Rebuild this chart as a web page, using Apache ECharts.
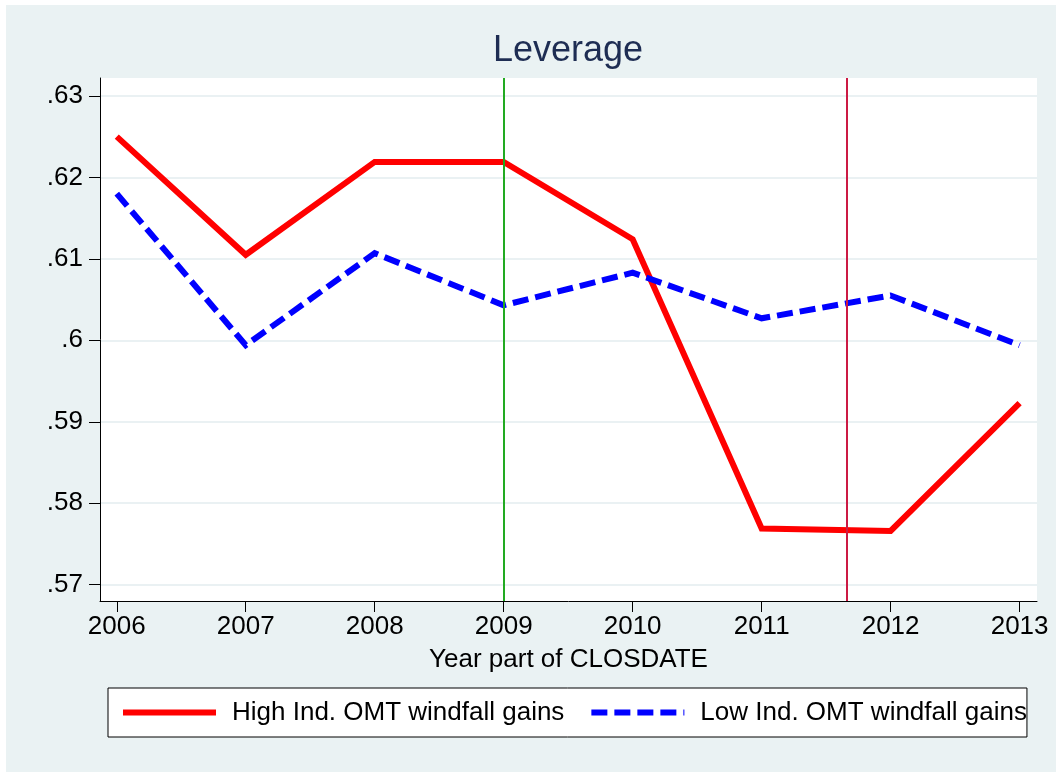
<!DOCTYPE html>
<html>
<head>
<meta charset="utf-8">
<script src="https://cdn.jsdelivr.net/npm/echarts@6/dist/echarts.min.js"></script>
<style>
  html, body { margin: 0; padding: 0; background: #ffffff; width: 1056px; height: 772px; overflow: hidden; }
  #bg { position: absolute; left: 6px; top: 5px; right: 0; bottom: 0; background: #EAF2F3; }
  #chart { position: absolute; left: 0; top: 0; width: 1056px; height: 772px; }
</style>
</head>
<body>
<div id="bg"></div>
<div id="chart"></div>
<script>
// ---- data ----
var years = [2006, 2007, 2008, 2009, 2010, 2011, 2012, 2013];
var highGains = [0.6250, 0.6105, 0.6219, 0.6219, 0.6124, 0.5769, 0.5766, 0.5923];
var lowGains  = [0.6180, 0.5994, 0.6107, 0.6043, 0.6083, 0.6027, 0.6055, 0.5994];
var yTicks = [0.57, 0.58, 0.59, 0.60, 0.61, 0.62, 0.63];
var yTickLabels = ['.57', '.58', '.59', '.6', '.61', '.62', '.63'];
var xTickLabels = ['2006', '2007', '2008', '2009', '2010', '2011', '2012', '2013'];
var refLines = [2009, 2011.66];
var seriesNames = ['High Ind. OMT windfall gains', 'Low Ind. OMT windfall gains'];
var titleText = 'Leverage';
var xAxisTitle = 'Year part of CLOSDATE';

var FONT = '"Liberation Sans", Arial, Helvetica, sans-serif';

function pairs(xs, ys) { return xs.map(function (x, i) { return [x, ys[i]]; }); }

var chart = echarts.init(document.getElementById('chart'), null, { renderer: 'canvas' });
chart.setOption({
  backgroundColor: 'transparent',
  animation: false,
  textStyle: { fontFamily: FONT },
  title: {
    text: titleText,
    left: 568,
    top: 33,
    textAlign: 'center',
    padding: 0,
    textStyle: { fontSize: 36, fontWeight: 'normal', color: '#1E2D53', fontFamily: FONT }
  },
  grid: {
    left: 100, top: 78, right: 19, bottom: 171,
    show: true, backgroundColor: '#ffffff', borderWidth: 0,
    containLabel: false,
    outerBoundsMode: 'none'
  },
  legend: {
    left: 108, top: 688,
    padding: [11, 0, 11, 12],
    backgroundColor: '#ffffff',
    borderColor: '#000000',
    borderWidth: 1,
    itemWidth: 93,
    itemHeight: 16,
    itemGap: 24,
    selectedMode: false,
    lineStyle: { width: 6 },
    itemStyle: { opacity: 0 },
    textStyle: { fontSize: 26, color: '#000000', fontFamily: FONT, lineHeight: 27, padding: [0, 0, 0, 11] },
    data: seriesNames
  },
  xAxis: {
    type: 'value',
    min: 2005.87,
    max: 2013.135,
    name: xAxisTitle,
    nameLocation: 'middle',
    nameGap: 46,
    nameTextStyle: { fontSize: 26, color: '#000000', fontFamily: FONT },
    axisLine: { show: true, lineStyle: { color: '#000000', width: 1 } },
    axisTick: { show: true, length: 11, lineStyle: { color: '#000000', width: 1 }, customValues: years },
    axisLabel: {
      show: true, margin: 13, fontSize: 26, color: '#000000', fontFamily: FONT,
      customValues: years,
      formatter: function (v) { var i = years.indexOf(Math.round(v)); return i >= 0 ? xTickLabels[i] : ''; }
    },
    splitLine: { show: false }
  },
  yAxis: {
    type: 'value',
    min: 0.568,
    max: 0.6322,
    axisLine: { show: true, lineStyle: { color: '#000000', width: 1 } },
    axisTick: { show: true, length: 11, lineStyle: { color: '#000000', width: 1 }, customValues: yTicks },
    axisLabel: {
      show: true, margin: 17, fontSize: 26, color: '#000000', fontFamily: FONT,
      customValues: yTicks,
      formatter: function (v) {
        for (var i = 0; i < yTicks.length; i++) { if (Math.abs(yTicks[i] - v) < 1e-6) return yTickLabels[i]; }
        return '';
      }
    },
    splitLine: { show: true, lineStyle: { color: '#EAF1F3', width: 2 } }
  },
  series: [
    {
      name: seriesNames[0],
      type: 'line',
      data: pairs(years, highGains),
      showSymbol: false,
      symbol: 'none',
      lineStyle: { color: '#FF0000', width: 6, type: 'solid', join: 'miter', cap: 'butt' },
      itemStyle: { color: '#FF0000' },
      z: 3,
      markLine: {
        silent: true,
        symbol: ['none', 'none'],
        label: { show: false },
        animation: false,
        data: [
          { xAxis: refLines[0], lineStyle: { color: '#22AA22', width: 2, type: 'solid' } },
          { xAxis: refLines[1], lineStyle: { color: '#CC1A44', width: 2, type: 'solid' } }
        ]
      }
    },
    {
      name: seriesNames[1],
      type: 'line',
      data: pairs(years, lowGains),
      showSymbol: false,
      symbol: 'none',
      lineStyle: { color: '#0000FF', width: 6, type: [16, 7], join: 'miter', cap: 'butt' },
      itemStyle: { color: '#0000FF' },
      z: 4
    }
  ]
});
</script>
</body>
</html>
